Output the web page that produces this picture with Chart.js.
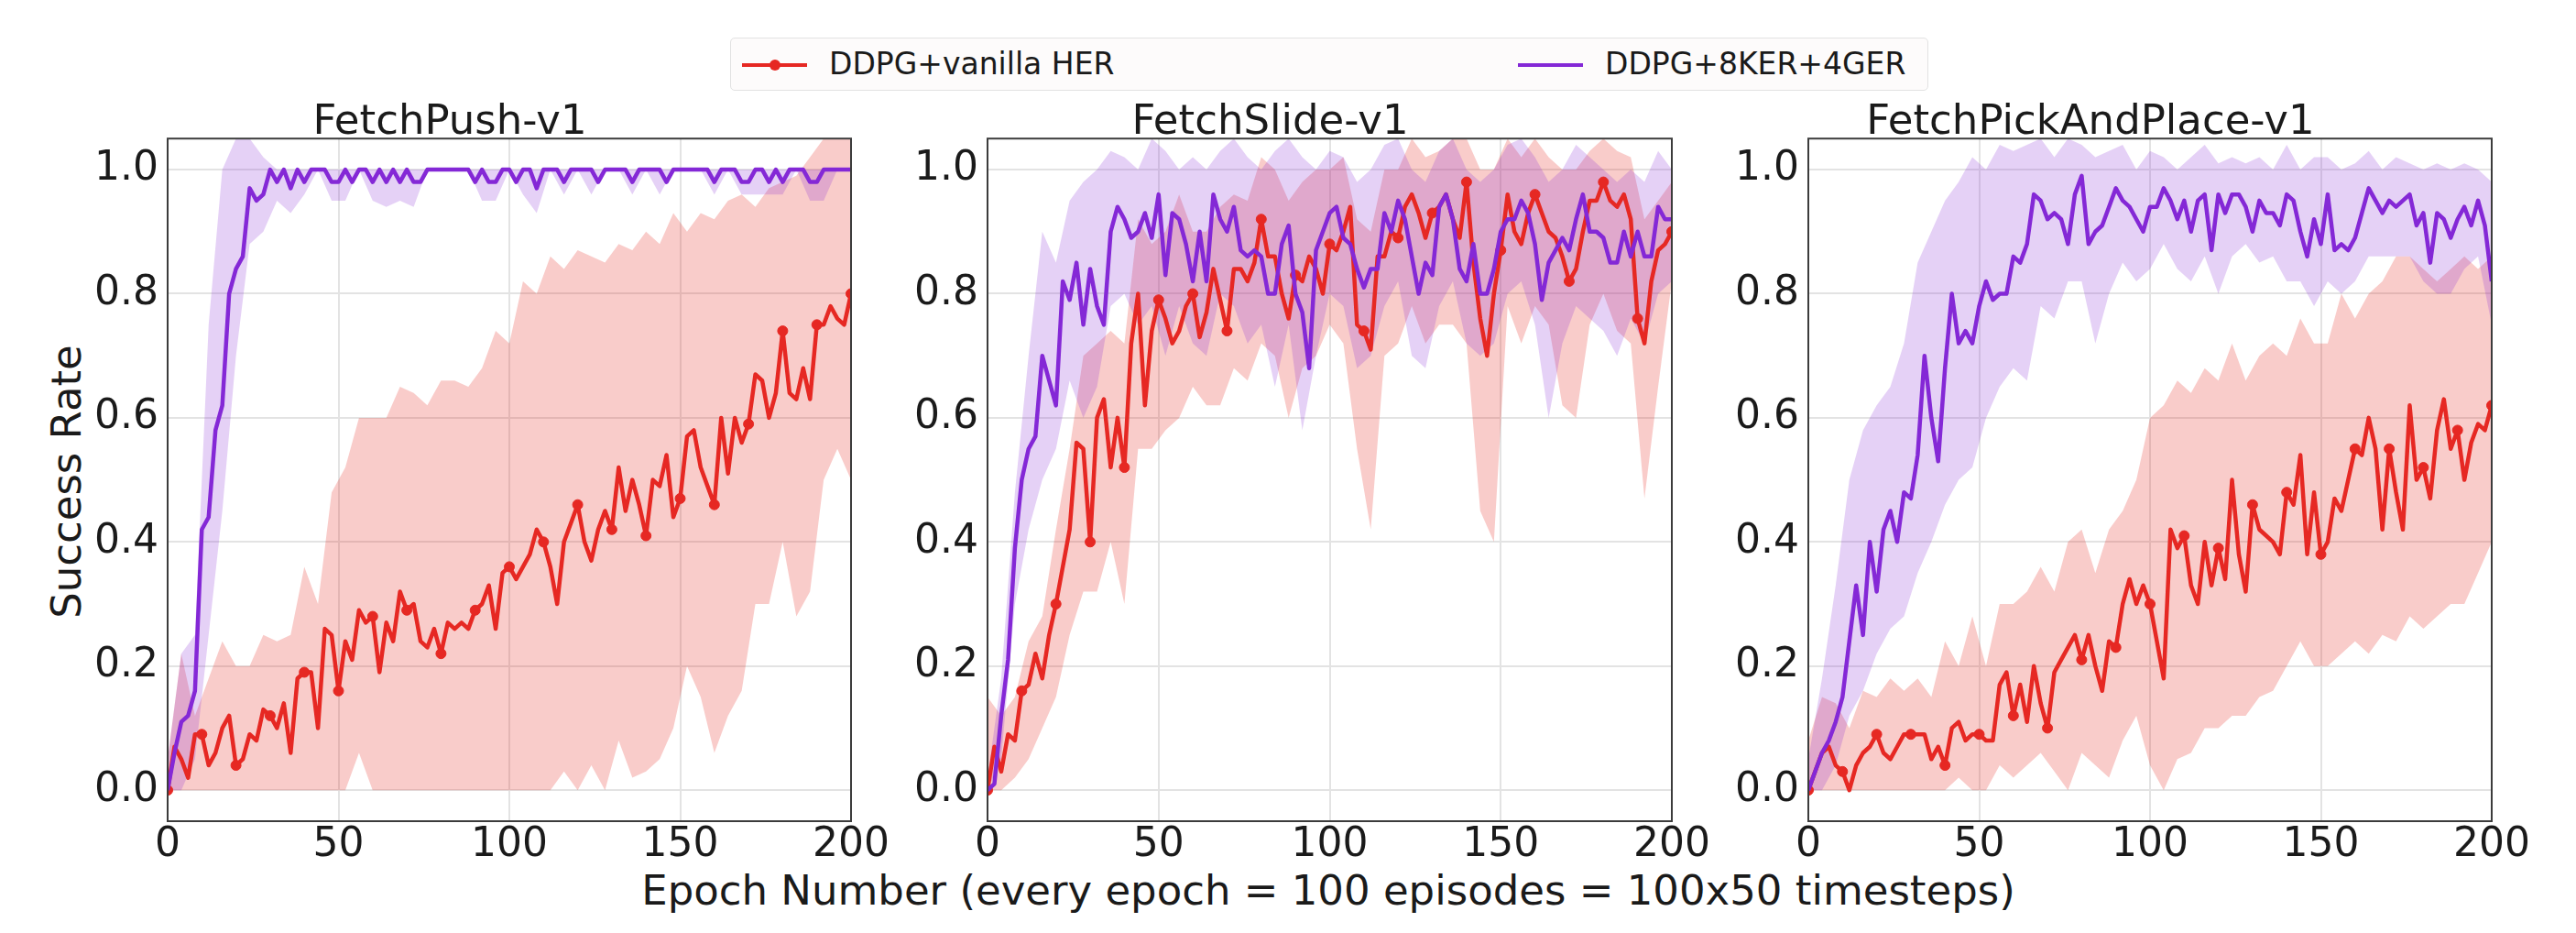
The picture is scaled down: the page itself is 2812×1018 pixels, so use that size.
<!DOCTYPE html>
<html>
<head>
<meta charset="utf-8">
<script src="https://cdn.jsdelivr.net/npm/chart.js@4.4.1/dist/chart.umd.min.js"></script>
<style>
  html, body { margin: 0; padding: 0; background: #fff; }
  #page { position: relative; width: 2812px; height: 1018px; overflow: hidden;
          font-family: 'DejaVu Sans', sans-serif; color: #1a1a1a; }
  .panel { position: absolute; top: 97px; }
  #legend { position: absolute; left: 797px; top: 41px; width: 1308px; height: 58px;
            border: 1.5px solid #e2e2e2; border-radius: 5px; background: #fdfbfb; box-sizing: border-box; }
  #legend .handle { position: absolute; top: 27px; width: 71px; height: 4px; }
  #legend .dot { position: absolute; top: 23px; width: 12px; height: 12px; border-radius: 50%; }
  #legend .label { position: absolute; top: -1px; font-size: 33px; line-height: 58px; white-space: nowrap; }
  #ylabel { position: absolute; left: -128px; top: 503px; width: 400px; height: 45px; line-height: 45px;
            font-size: 45px; text-align: center; transform: rotate(-90deg); white-space: nowrap; }
  #xlabel { position: absolute; left: 450px; top: 949px; width: 2000px; height: 45px; line-height: 45px;
            font-size: 45px; text-align: center; white-space: nowrap; }
</style>
</head>
<body>
<div id="page">
  <div id="legend">
    <span class="handle" style="left:12px;background:rgb(230,40,35)"></span>
    <span class="dot" style="left:42px;background:rgb(230,40,35)"></span>
    <span class="label" style="left:107px">DDPG+vanilla HER</span>
    <span class="handle" style="left:859px;background:rgb(132,40,214)"></span>
    <span class="label" style="left:954px">DDPG+8KER+4GER</span>
  </div>
  <div id="ylabel">Success Rate</div>
  <div id="xlabel">Epoch Number (every epoch = 100 episodes = 100x50 timesteps)</div>
  <canvas id="push" class="panel" width="926" height="859" style="left:53px"></canvas>
  <canvas id="slide" class="panel" width="927" height="859" style="left:948px"></canvas>
  <canvas id="pick" class="panel" width="926" height="859" style="left:1844px"></canvas>
</div>
<script>
// --- Data ---
const epochs = [0,2,4,6,8,10,12,14,16,18,20,22,24,26,28,30,32,34,36,38,40,42,44,46,48,50,52,54,56,58,
  60,62,64,66,68,70,72,74,76,78,80,82,84,86,88,90,92,94,96,98,100,102,104,106,108,110,112,114,116,118,
  120,122,124,126,128,130,132,134,136,138,140,142,144,146,148,150,152,154,156,158,160,162,164,166,168,170,
  172,174,176,178,180,182,184,186,188,190,192,194,196,198,200];
const bandEpochs = [0,4,8,12,16,20,24,28,32,36,40,44,48,52,56,60,64,68,72,76,80,84,88,92,96,100,
  104,108,112,116,120,124,128,132,136,140,144,148,152,156,160,164,168,172,176,180,184,188,192,196,200];
const xTicks = [0, 50, 100, 150, 200];
const yTicks = [0, 0.2, 0.4, 0.6, 0.8, 1.0];

// FetchPush-v1
const pushKerMean = [0, 0.06, 0.11, 0.12, 0.16, 0.42, 0.44, 0.58, 0.62, 0.80,
  0.84, 0.86, 0.97, 0.95, 0.96, 1.0, 0.98, 1.0, 0.97, 1.0,
  0.98, 1.0, 1.0, 1.0, 0.98, 0.98, 1.0, 0.98, 1.0, 1.0,
  0.98, 1.0, 0.98, 1.0, 0.98, 1.0, 0.98, 0.98, 1.0, 1.0,
  1.0, 1.0, 1.0, 1.0, 1.0, 0.98, 1.0, 0.98, 0.98, 1.0,
  1.0, 0.98, 1.0, 1.0, 0.97, 1.0, 1.0, 1.0, 0.98, 1.0,
  1.0, 1.0, 1.0, 0.98, 1.0, 1.0, 1.0, 1.0, 0.98, 1.0,
  1.0, 1.0, 1.0, 0.98, 1.0, 1.0, 1.0, 1.0, 1.0, 1.0,
  0.98, 1.0, 1.0, 1.0, 0.98, 0.98, 1.0, 1.0, 0.98, 1.0,
  0.98, 1.0, 1.0, 1.0, 0.98, 0.98, 1.0, 1.0, 1.0, 1.0,
  1.0];
const pushHerMean = [0.0, 0.07, 0.05, 0.02, 0.09, 0.09, 0.04, 0.06, 0.10, 0.12,
  0.04, 0.05, 0.09, 0.08, 0.13, 0.12, 0.10, 0.14, 0.06, 0.18,
  0.19, 0.19, 0.10, 0.26, 0.25, 0.16, 0.24, 0.21, 0.29, 0.27,
  0.28, 0.19, 0.27, 0.24, 0.32, 0.29, 0.30, 0.24, 0.23, 0.26,
  0.22, 0.27, 0.26, 0.27, 0.26, 0.29, 0.30, 0.33, 0.26, 0.35,
  0.36, 0.34, 0.36, 0.38, 0.42, 0.40, 0.36, 0.30, 0.40, 0.43,
  0.46, 0.40, 0.37, 0.42, 0.45, 0.42, 0.52, 0.45, 0.50, 0.46,
  0.41, 0.50, 0.49, 0.54, 0.44, 0.47, 0.57, 0.58, 0.52, 0.49,
  0.46, 0.60, 0.51, 0.60, 0.56, 0.59, 0.67, 0.66, 0.60, 0.64,
  0.74, 0.64, 0.63, 0.68, 0.63, 0.75, 0.75, 0.78, 0.76, 0.75,
  0.80];
const pushKerLow = [0, 0, 0.05, 0.25, 0.45, 0.70, 0.88, 0.90, 0.95, 0.93,
  0.96, 1.0, 0.95, 0.95, 1.0, 0.95, 0.94, 0.95, 0.94, 1.0,
  1.0, 1.0, 1.0, 0.95, 0.95, 1.0, 0.96, 0.93, 1.0, 0.96,
  1.0, 0.96, 1.0, 1.0, 0.96, 1.0, 0.96, 1.0, 1.0, 1.0,
  0.96, 1.0, 0.96, 0.96, 0.96, 0.96, 1.0, 0.95, 0.95, 1.0,
  1.0];
const pushKerHigh = [0.05, 0.22, 0.25, 0.75, 1.0, 1.05, 1.05, 1.02, 1.0, 1.0,
  1.0, 1.0, 1.0, 1.0, 1.0, 1.0, 1.0, 1.0, 1.0, 1.0,
  1.0, 1.0, 1.0, 1.0, 1.0, 1.0, 1.0, 1.0, 1.0, 1.0,
  1.0, 1.0, 1.0, 1.0, 1.0, 1.0, 1.0, 1.0, 1.0, 1.0,
  1.0, 1.0, 1.0, 1.0, 1.0, 1.0, 1.0, 1.0, 1.0, 1.0,
  1.0];
const pushHerLow = [0, 0, 0, 0, 0, 0, 0, 0, 0, 0,
  0, 0, 0, 0, 0.06, 0, 0, 0, 0, 0,
  0, 0, 0, 0, 0, 0, 0, 0, 0, 0.03,
  0, 0.04, 0, 0.08, 0.02, 0.03, 0.05, 0.10, 0.20, 0.15,
  0.06, 0.12, 0.16, 0.30, 0.30, 0.40, 0.28, 0.32, 0.50, 0.55,
  0.50];
const pushHerHigh = [0.05, 0.22, 0.12, 0.18, 0.24, 0.20, 0.20, 0.25, 0.24, 0.25,
  0.36, 0.30, 0.48, 0.52, 0.60, 0.60, 0.60, 0.65, 0.64, 0.62,
  0.66, 0.66, 0.65, 0.68, 0.74, 0.72, 0.82, 0.80, 0.86, 0.84,
  0.87, 0.86, 0.85, 0.88, 0.87, 0.90, 0.88, 0.93, 0.90, 0.93,
  0.92, 0.95, 0.96, 0.94, 0.97, 0.98, 0.99, 1.02, 1.05, 1.05,
  1.05];

// FetchSlide-v1
const slideKerMean = [0, 0.01, 0.12, 0.21, 0.39, 0.50, 0.55, 0.57, 0.70, 0.66,
  0.62, 0.82, 0.79, 0.85, 0.75, 0.84, 0.78, 0.75, 0.90, 0.94,
  0.92, 0.89, 0.90, 0.93, 0.89, 0.96, 0.83, 0.93, 0.92, 0.88,
  0.82, 0.90, 0.82, 0.96, 0.92, 0.90, 0.94, 0.87, 0.86, 0.87,
  0.86, 0.80, 0.80, 0.88, 0.91, 0.80, 0.77, 0.68, 0.87, 0.90,
  0.93, 0.94, 0.89, 0.88, 0.84, 0.81, 0.84, 0.84, 0.93, 0.90,
  0.95, 0.92, 0.86, 0.80, 0.85, 0.83, 0.94, 0.96, 0.92, 0.84,
  0.82, 0.88, 0.80, 0.80, 0.84, 0.90, 0.92, 0.92, 0.95, 0.93,
  0.88, 0.79, 0.85, 0.87, 0.89, 0.87, 0.92, 0.96, 0.90, 0.90,
  0.89, 0.85, 0.85, 0.90, 0.86, 0.90, 0.86, 0.86, 0.94, 0.92,
  0.92];
const slideHerMean = [0, 0.07, 0.03, 0.09, 0.08, 0.16, 0.17, 0.22, 0.18, 0.25,
  0.30, 0.36, 0.42, 0.56, 0.55, 0.40, 0.60, 0.63, 0.52, 0.60,
  0.52, 0.72, 0.80, 0.62, 0.74, 0.79, 0.76, 0.72, 0.74, 0.78,
  0.80, 0.73, 0.77, 0.84, 0.79, 0.74, 0.84, 0.84, 0.82, 0.85,
  0.92, 0.86, 0.86, 0.80, 0.76, 0.83, 0.82, 0.86, 0.84, 0.80,
  0.88, 0.87, 0.90, 0.94, 0.75, 0.74, 0.71, 0.86, 0.86, 0.90,
  0.89, 0.94, 0.96, 0.93, 0.89, 0.93, 0.94, 0.96, 0.92, 0.89,
  0.98, 0.85, 0.76, 0.70, 0.80, 0.87, 0.96, 0.90, 0.88, 0.93,
  0.96, 0.93, 0.90, 0.89, 0.86, 0.82, 0.84, 0.90, 0.95, 0.95,
  0.98, 0.95, 0.94, 0.96, 0.92, 0.76, 0.72, 0.82, 0.87, 0.88,
  0.90];
const slideKerLow = [0, 0.05, 0.30, 0.42, 0.50, 0.55, 0.66, 0.60, 0.65, 0.78,
  0.80, 0.75, 0.78, 0.70, 0.78, 0.72, 0.70, 0.80, 0.78, 0.72,
  0.75, 0.65, 0.75, 0.58, 0.70, 0.80, 0.78, 0.68, 0.70, 0.78,
  0.82, 0.70, 0.68, 0.78, 0.82, 0.72, 0.70, 0.72, 0.80, 0.82,
  0.75, 0.60, 0.72, 0.78, 0.76, 0.74, 0.70, 0.76, 0.72, 0.80,
  0.82];
const slideKerHigh = [0.02, 0.18, 0.48, 0.70, 0.90, 0.85, 0.95, 0.98, 1.0, 1.03,
  1.02, 1.0, 1.05, 1.03, 1.0, 1.02, 1.0, 1.03, 1.05, 1.02,
  1.0, 1.03, 1.05, 1.02, 1.0, 1.03, 1.02, 0.98, 1.0, 1.04,
  1.05, 1.0, 0.98, 1.03, 1.05, 1.0, 0.98, 1.0, 1.04, 1.05,
  1.02, 0.98, 1.0, 1.04, 1.02, 1.0, 0.98, 1.0, 0.98, 1.03,
  1.0];
const slideHerLow = [0, 0, 0.02, 0.05, 0.10, 0.15, 0.25, 0.32, 0.32, 0.40,
  0.30, 0.55, 0.55, 0.58, 0.60, 0.65, 0.62, 0.62, 0.68, 0.66,
  0.72, 0.70, 0.60, 0.68, 0.70, 0.75, 0.72, 0.55, 0.42, 0.70,
  0.72, 0.78, 0.72, 0.75, 0.75, 0.72, 0.45, 0.40, 0.78, 0.72,
  0.78, 0.75, 0.62, 0.60, 0.75, 0.80, 0.74, 0.72, 0.47, 0.65,
  0.82];
const slideHerHigh = [0.15, 0.12, 0.15, 0.24, 0.28, 0.42, 0.55, 0.70, 0.72, 0.74,
  0.72, 0.92, 0.88, 0.90, 0.96, 0.90, 0.90, 0.94, 0.96, 0.95,
  1.02, 1.0, 0.95, 0.98, 1.0, 1.0, 1.02, 0.92, 0.90, 1.0,
  1.0, 1.05, 1.02, 1.03, 1.05, 1.05, 1.0, 1.0, 1.05, 1.02,
  1.05, 1.02, 1.0, 1.0, 1.03, 1.05, 1.03, 1.02, 0.92, 0.95,
  0.98];

// FetchPickAndPlace-v1
const pickKerMean = [0, 0.03, 0.06, 0.08, 0.11, 0.15, 0.24, 0.33, 0.25, 0.40,
  0.32, 0.42, 0.45, 0.40, 0.48, 0.47, 0.54, 0.70, 0.60, 0.53,
  0.68, 0.80, 0.72, 0.74, 0.72, 0.78, 0.82, 0.79, 0.80, 0.80,
  0.86, 0.85, 0.88, 0.96, 0.95, 0.92, 0.93, 0.92, 0.88, 0.96,
  0.99, 0.88, 0.90, 0.91, 0.94, 0.97, 0.95, 0.94, 0.92, 0.90,
  0.94, 0.94, 0.97, 0.95, 0.92, 0.95, 0.90, 0.95, 0.96, 0.87,
  0.96, 0.93, 0.96, 0.96, 0.94, 0.90, 0.95, 0.93, 0.93, 0.91,
  0.96, 0.95, 0.90, 0.86, 0.92, 0.88, 0.96, 0.87, 0.88, 0.87,
  0.89, 0.93, 0.97, 0.95, 0.93, 0.95, 0.94, 0.95, 0.96, 0.91,
  0.93, 0.85, 0.93, 0.92, 0.89, 0.92, 0.94, 0.91, 0.95, 0.91,
  0.82];
const pickHerMean = [0, 0.03, 0.06, 0.07, 0.04, 0.03, 0.0, 0.04, 0.06, 0.07,
  0.09, 0.06, 0.05, 0.07, 0.09, 0.09, 0.09, 0.09, 0.05, 0.07,
  0.04, 0.10, 0.11, 0.08, 0.09, 0.09, 0.08, 0.08, 0.17, 0.19,
  0.12, 0.17, 0.11, 0.20, 0.14, 0.10, 0.19, 0.21, 0.23, 0.25,
  0.21, 0.25, 0.20, 0.16, 0.24, 0.23, 0.30, 0.34, 0.30, 0.33,
  0.30, 0.24, 0.18, 0.42, 0.39, 0.41, 0.33, 0.30, 0.40, 0.33,
  0.39, 0.34, 0.50, 0.38, 0.32, 0.46, 0.42, 0.41, 0.40, 0.38,
  0.48, 0.46, 0.54, 0.38, 0.48, 0.38, 0.40, 0.47, 0.45, 0.50,
  0.55, 0.54, 0.60, 0.55, 0.42, 0.55, 0.48, 0.42, 0.62, 0.50,
  0.52, 0.47, 0.58, 0.63, 0.55, 0.58, 0.50, 0.56, 0.59, 0.58,
  0.62];
const pickKerLow = [0, 0, 0.04, 0.12, 0.16, 0.22, 0.26, 0.28, 0.35, 0.40,
  0.46, 0.50, 0.52, 0.60, 0.65, 0.68, 0.66, 0.78, 0.76, 0.82,
  0.82, 0.72, 0.80, 0.85, 0.82, 0.84, 0.88, 0.84, 0.82, 0.86,
  0.80, 0.86, 0.88, 0.85, 0.86, 0.82, 0.82, 0.78, 0.82, 0.80,
  0.82, 0.86, 0.86, 0.86, 0.86, 0.82, 0.80, 0.80, 0.84, 0.86,
  0.75];
const pickKerHigh = [0.05, 0.18, 0.33, 0.50, 0.58, 0.62, 0.65, 0.72, 0.85, 0.90,
  0.95, 0.98, 1.02, 1.0, 1.04, 1.03, 1.04, 1.05, 1.02, 1.05,
  1.04, 1.02, 1.03, 1.04, 1.0, 1.03, 1.02, 1.0, 1.02, 1.04,
  1.01, 1.02, 1.01, 1.02, 1.0, 1.04, 1.0, 1.02, 1.02, 1.0,
  1.01, 1.03, 1.0, 1.02, 1.01, 1.0, 1.01, 1.0, 1.01, 1.0,
  0.98];
const pickHerLow = [0, 0, 0, 0, 0, 0, 0, 0, 0, 0,
  0, 0.02, 0, 0, 0.04, 0.02, 0.04, 0.06, 0.03, 0,
  0.06, 0.04, 0.02, 0.08, 0.12, 0.04, 0, 0.05, 0.06, 0.10,
  0.10, 0.12, 0.12, 0.15, 0.16, 0.20, 0.24, 0.20, 0.20, 0.22,
  0.24, 0.22, 0.25, 0.24, 0.28, 0.26, 0.28, 0.30, 0.30, 0.35,
  0.40];
const pickHerHigh = [0.08, 0.15, 0.14, 0.10, 0.16, 0.15, 0.18, 0.16, 0.18, 0.15,
  0.24, 0.20, 0.28, 0.20, 0.30, 0.30, 0.32, 0.36, 0.32, 0.40,
  0.42, 0.35, 0.42, 0.45, 0.50, 0.60, 0.62, 0.66, 0.64, 0.68,
  0.66, 0.72, 0.66, 0.70, 0.72, 0.70, 0.76, 0.72, 0.72, 0.80,
  0.76, 0.80, 0.82, 0.86, 0.86, 0.84, 0.82, 0.84, 0.86, 0.84,
  0.86];

// --- Styles ---
const RED = 'rgb(230, 40, 35)';
const PURPLE = 'rgb(132, 40, 214)';
const RED_FILL = 'rgba(230, 40, 35, 0.24)';
const PURPLE_FILL = 'rgba(132, 40, 214, 0.21)';
const GRID = '#e3e3e3';
const TEXT = '#1a1a1a';

Chart.defaults.font.family = "'DejaVu Sans', sans-serif";
Chart.defaults.color = TEXT;

const toXY = (xs, ys) => xs.map((x, i) => ({ x: x, y: ys[i] }));

// matplotlib-like box around the axes
const framePlugin = {
    id: 'frame',
    afterDatasetsDraw(chart) {
        const { ctx, chartArea: a } = chart;
        ctx.save();
        ctx.strokeStyle = '#3c3c3c';
        ctx.lineWidth = 2;
        ctx.strokeRect(a.left, a.top, a.right - a.left, a.bottom - a.top);
        ctx.restore();
    }
};

function meanLine(ys, color, markers) {
    return {
        data: toXY(epochs, ys),
        borderColor: color,
        backgroundColor: color,
        borderWidth: 4.5,
        borderJoinStyle: 'round',
        tension: 0,
        fill: false,
        clip: 0,
        pointRadius: markers ? (c => (c.raw && c.raw.x % 10 === 0 ? 5.5 : 0)) : 0,
        pointBackgroundColor: color,
        pointBorderColor: color,
        pointBorderWidth: 1
    };
}

function bandEdge(ys, target, fillColor) {
    return {
        data: toXY(bandEpochs, ys),
        borderWidth: 0,
        borderColor: 'rgba(0,0,0,0)',
        backgroundColor: fillColor || 'rgba(0,0,0,0)',
        pointRadius: 0,
        tension: 0,
        clip: 0,
        fill: target === undefined ? false : { target: target }
    };
}

function makeChart(id, title, kerMean, herMean, kerLow, kerHigh, herLow, herHigh) {
    return new Chart(document.getElementById(id), {
        type: 'line',
        data: {
            datasets: [
                meanLine(kerMean, PURPLE, false),
                meanLine(herMean, RED, true),
                bandEdge(kerLow),
                bandEdge(kerHigh, 2, PURPLE_FILL),
                bandEdge(herLow),
                bandEdge(herHigh, 4, RED_FILL)
            ]
        },
        options: {
            responsive: false,
            animation: false,
            events: [],
            layout: { padding: { left: 0, right: 50, top: 0, bottom: 0 } },
            plugins: {
                legend: { display: false },
                tooltip: { enabled: false },
                title: {
                    display: true,
                    text: title,
                    color: TEXT,
                    font: { size: 45, weight: 'normal', lineHeight: 0.76 },
                    padding: { top: 20, bottom: 0 }
                }
            },
            scales: {
                x: {
                    type: 'linear',
                    min: 0,
                    max: 200,
                    afterBuildTicks: s => { s.ticks = xTicks.map(v => ({ value: v })); },
                    afterFit: s => { s.height = 60; s.paddingLeft = 0; s.paddingRight = 0; },
                    grid: { color: GRID, lineWidth: 2, drawTicks: false },
                    border: { display: false },
                    ticks: { padding: 0, color: TEXT, font: { size: 44 }, maxRotation: 0, autoSkip: false,
                             callback: v => String(v) }
                },
                y: {
                    min: -0.05,
                    max: 1.05,
                    afterBuildTicks: s => { s.ticks = yTicks.map(v => ({ value: v })); },
                    afterFit: s => { s.width = 130; s.paddingTop = 0; s.paddingBottom = 0; },
                    grid: { color: GRID, lineWidth: 2, drawTicks: false },
                    border: { display: false },
                    ticks: { padding: 10, color: TEXT, font: { size: 44 }, autoSkip: false,
                             callback: v => v.toFixed(1) }
                }
            }
        },
        plugins: [framePlugin]
    });
}

makeChart('push', 'FetchPush-v1', pushKerMean, pushHerMean, pushKerLow, pushKerHigh, pushHerLow, pushHerHigh);
makeChart('slide', 'FetchSlide-v1', slideKerMean, slideHerMean, slideKerLow, slideKerHigh, slideHerLow, slideHerHigh);
makeChart('pick', 'FetchPickAndPlace-v1', pickKerMean, pickHerMean, pickKerLow, pickKerHigh, pickHerLow, pickHerHigh);
</script>
</body>
</html>
